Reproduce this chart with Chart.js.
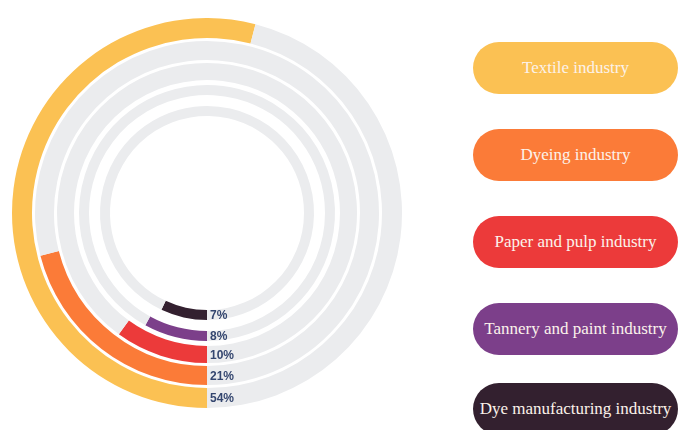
<!DOCTYPE html>
<html>
<head>
<meta charset="utf-8">
<script src="https://cdn.jsdelivr.net/npm/chart.js@4/dist/chart.umd.min.js"></script>
<style>
  html, body { margin: 0; padding: 0; background: #fff; }
  body { width: 678px; height: 430px; position: relative; overflow: hidden; }
  #wrap { position: absolute; left: 12px; top: 18px; width: 390px; height: 390px; }
  .pill {
    position: absolute; left: 473px; width: 205px; height: 52px;
    border-radius: 26px; color: #fbf2ea;
    font-family: "Liberation Serif", "Times New Roman", serif; font-size: 17px;
    display: flex; align-items: center; justify-content: center; white-space: nowrap;
  }
</style>
</head>
<body>
<div id="wrap"><canvas id="rings" width="390" height="390"></canvas></div>
<div id="legend"></div>
<script>
// industries, outer ring first
const categories = ['Textile industry', 'Dyeing industry', 'Paper and pulp industry', 'Tannery and paint industry', 'Dye manufacturing industry'];
const shares = [54, 21, 10, 8, 7];
const colours = ['#fbc153', '#fb7b38', '#ec3a3a', '#7c3f8a', '#33202f'];
const trackColour = '#ebecee';

// ring thickness and white gaps between rings (relative weights)
const ringWeights = [20, 19, 17, 10, 10];
const gapWeights = [3, 3, 5, 11];

let datasets = [];
for (let i = 0; i < shares.length; i++) {
    datasets.push({
        data: [shares[i], 100 - shares[i]],
        backgroundColor: [colours[i], trackColour],
        weight: ringWeights[i],
        share: i
    });
    if (i < gapWeights.length) {
        datasets.push({
            data: [100],
            backgroundColor: ['rgba(0,0,0,0)'],
            weight: gapWeights[i]
        });
    }
}

// percent labels at the start of each bar
const shareLabels = {
    id: 'shareLabels',
    afterDatasetsDraw(chart) {
        const ctx = chart.ctx;
        ctx.save();
        ctx.font = 'bold 12px "Liberation Sans", Arial, sans-serif';
        ctx.fillStyle = '#34466f';
        ctx.textAlign = 'left';
        ctx.textBaseline = 'middle';
        chart.data.datasets.forEach(function (ds, di) {
            if (ds.share === undefined) return;
            let arc = chart.getDatasetMeta(di).data[0];
            let p = arc.getProps(['x', 'y', 'innerRadius', 'outerRadius'], true);
            ctx.fillText(shares[ds.share] + '%', p.x + 3, p.y + (p.innerRadius + p.outerRadius) / 2 + 1);
        });
        ctx.restore();
    }
};

new Chart(document.getElementById('rings'), {
    type: 'doughnut',
    data: { labels: ['value', 'rest'], datasets: datasets },
    options: {
        responsive: false,
        animation: false,
        rotation: 180,
        radius: 195,
        cutout: 97,
        layout: { padding: 0 },
        elements: { arc: { borderWidth: 0, hoverOffset: 0 } },
        plugins: {
            legend: { display: false },
            tooltip: { enabled: false }
        }
    },
    plugins: [shareLabels]
});

// legend pills
const pillTops = [42, 129, 216, 303, 383];
let legend = document.getElementById('legend');
categories.forEach(function (name, i) {
    let d = document.createElement('div');
    d.className = 'pill';
    d.style.top = pillTops[i] + 'px';
    d.style.background = colours[i];
    d.textContent = name;
    legend.appendChild(d);
});
</script>
</body>
</html>
